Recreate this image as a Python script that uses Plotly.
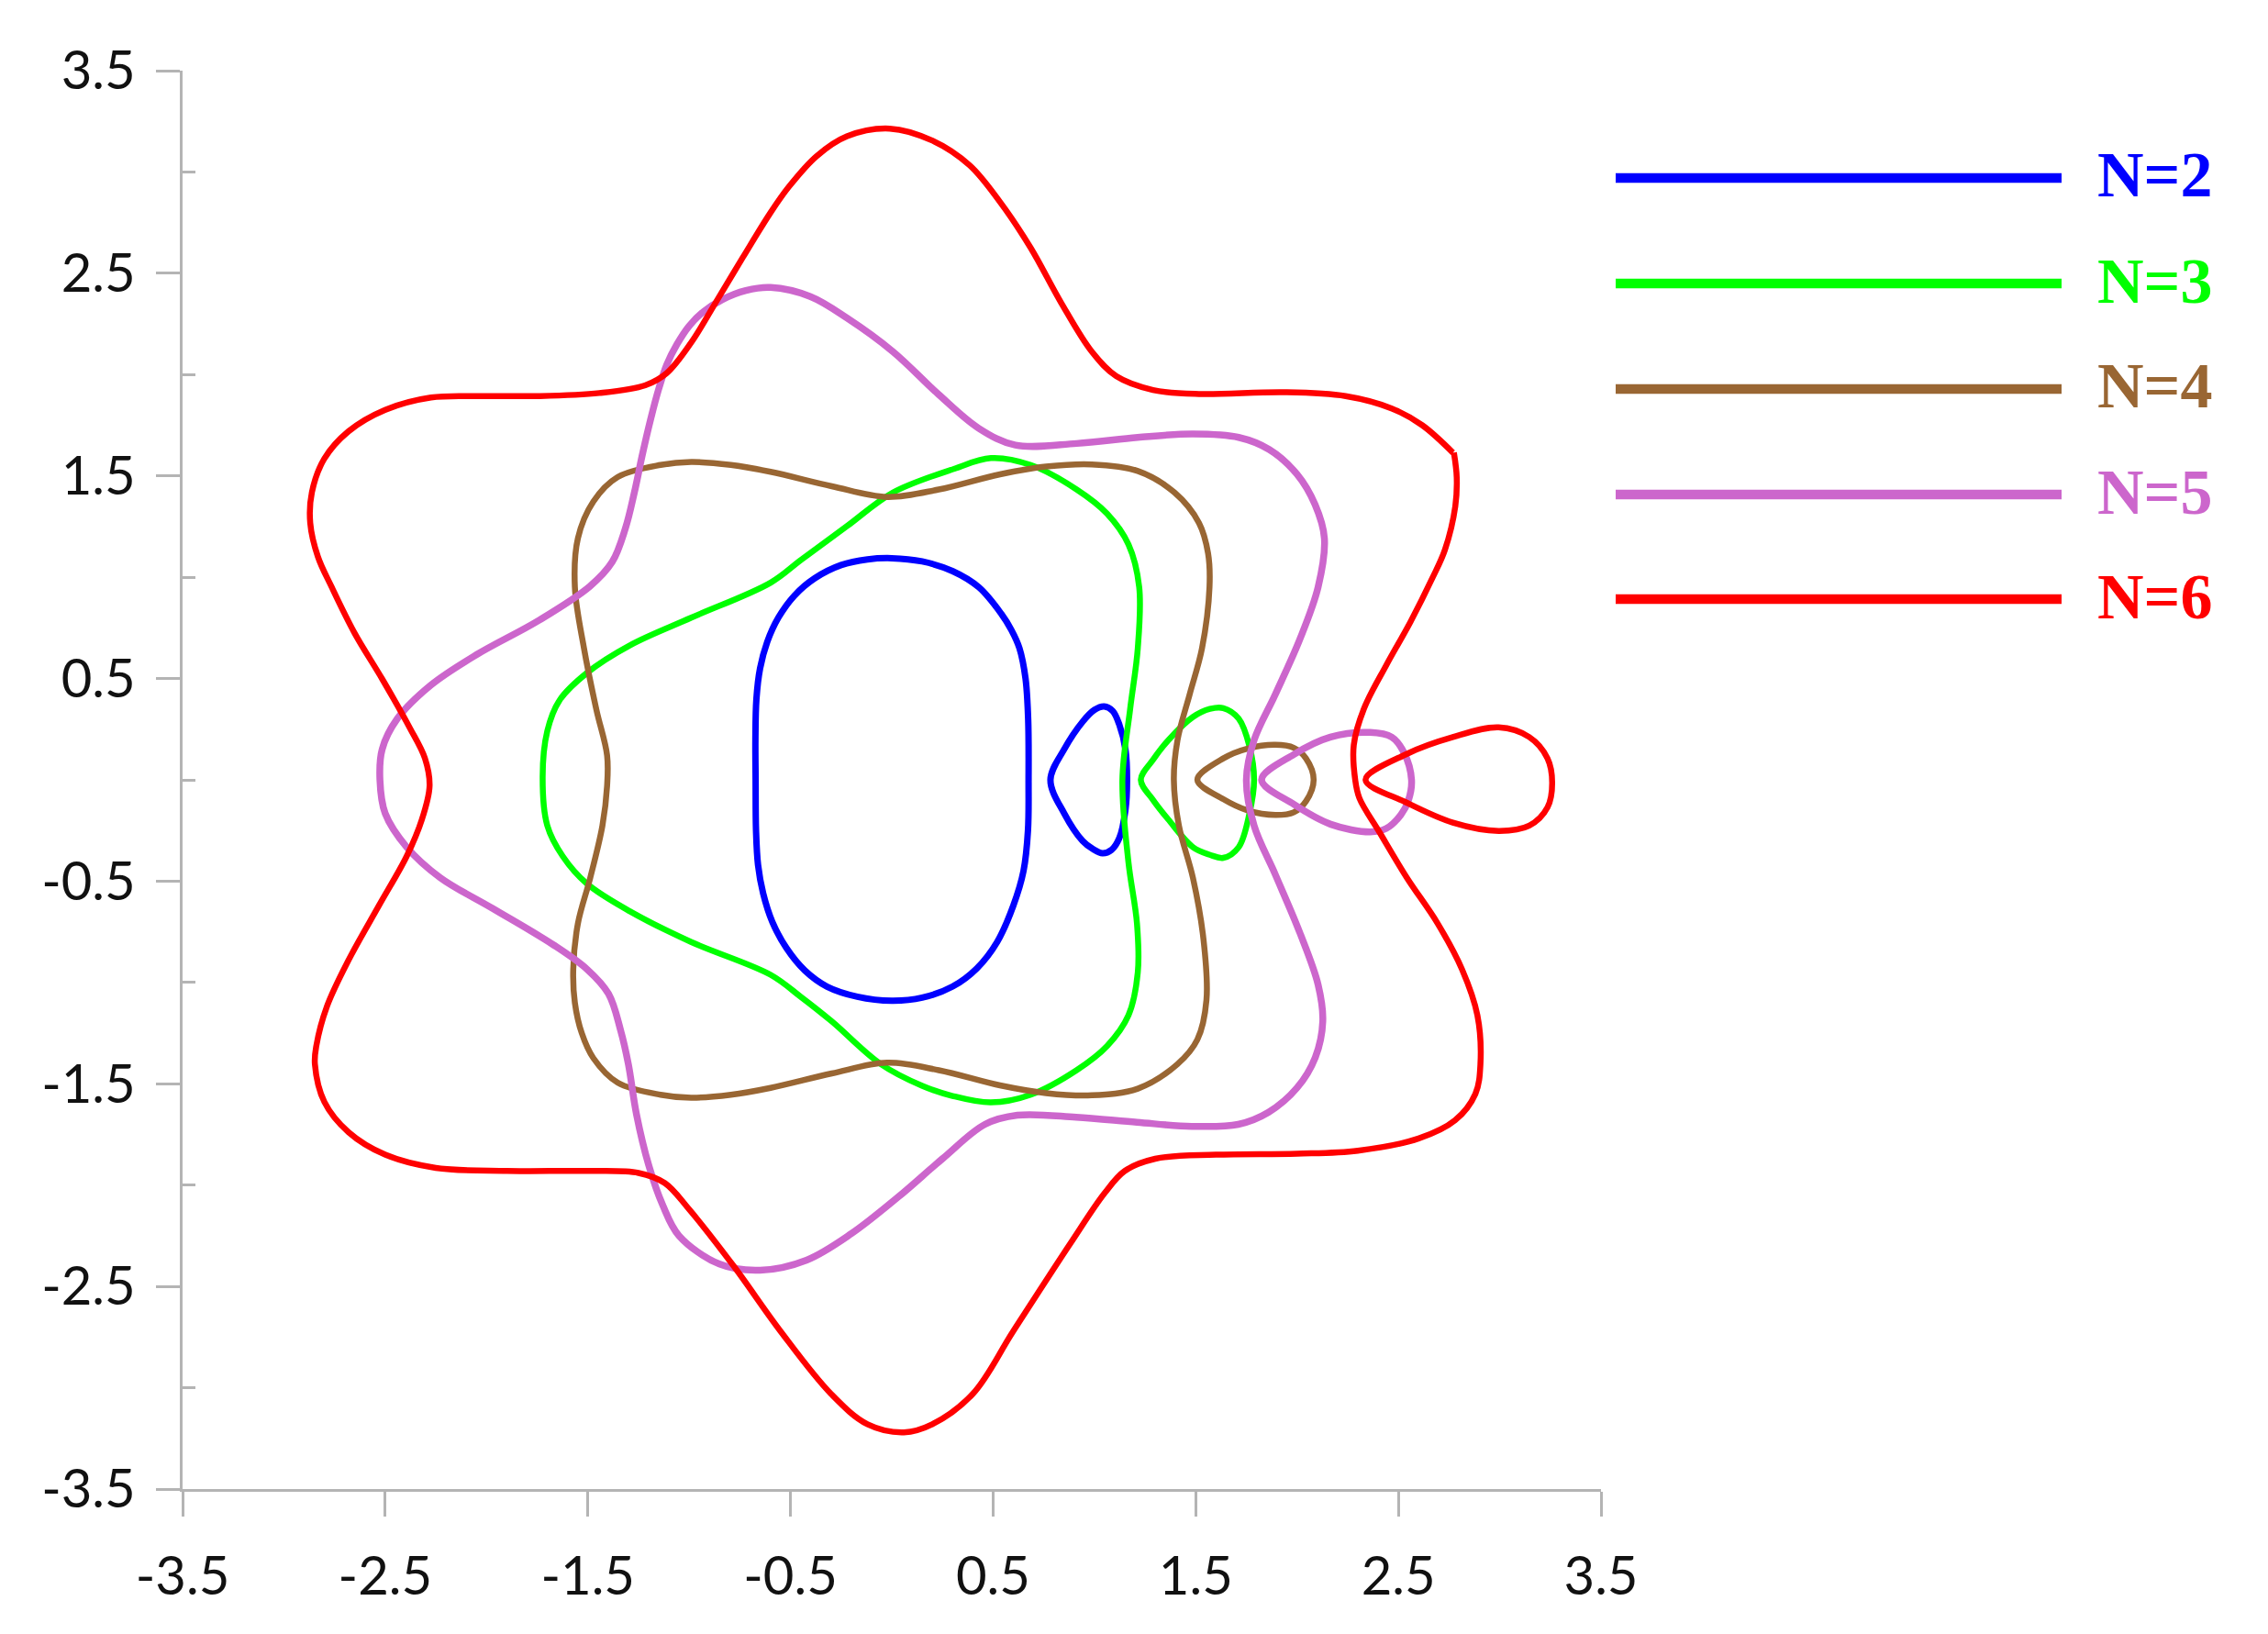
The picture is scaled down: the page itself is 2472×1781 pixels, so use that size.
import plotly.graph_objects as go

# ---------------- data ----------------
series_names = ["N=2", "N=3", "N=4", "N=5", "N=6"]
series_colors = ["#0000FF", "#00FF00", "#996633", "#CC66CC", "#FF0000"]
series_widths = [7, 6.5, 6.5, 7.5, 6.5]

axis_ticks = [-3.5, -2.5, -1.5, -0.5, 0.5, 1.5, 2.5, 3.5]
axis_ticklabels = ["-3.5", "-2.5", "-1.5", "-0.5", "0.5", "1.5", "2.5", "3.5"]
y_minor_ticks = [-3, -2, -1, 0, 1, 2, 3]

# N=2
n2_main_x = [0.675, 0.673, 0.66, 0.63, 0.59, 0.54, 0.43, 0.3, 0.15, 0.0, -0.12, -0.25, -0.38, -0.48, -0.56,
             -0.615, -0.65, -0.668, -0.673, -0.672, -0.67, -0.66, -0.635, -0.59, -0.52, -0.43, -0.32, -0.17,
             0.0, 0.15, 0.3, 0.42, 0.52, 0.6, 0.65, 0.672, 0.675]
n2_main_y = [0.0, 0.3, 0.5, 0.65, 0.74, 0.82, 0.95, 1.03, 1.078, 1.094, 1.088, 1.06, 0.995, 0.91, 0.8,
             0.68, 0.55, 0.4, 0.2, 0.0, -0.25, -0.42, -0.56, -0.7, -0.83, -0.94, -1.02, -1.07,
             -1.09, -1.075, -1.02, -0.93, -0.8, -0.62, -0.45, -0.25, 0.0]
n2_loop_x = [0.783, 0.851, 0.942, 1.0, 1.048, 1.09, 1.123, 1.153, 1.161, 1.153, 1.123, 1.085, 1.04, 0.99, 0.942, 0.851, 0.783]
n2_loop_y = [0.0, 0.151, 0.287, 0.345, 0.362, 0.34, 0.272, 0.151, 0.0, -0.15, -0.287, -0.345, -0.362, -0.34, -0.302, -0.166, 0.0]

# N=3
n3_main_x = [1.138, 1.176, 1.214, 1.221, 1.168, 1.063, 0.912, 0.685, 0.489, 0.308, 0.006, -0.221, -0.447, -0.598,
             -0.99, -1.292, -1.504, -1.64, -1.7, -1.723, -1.7, -1.624, -1.504, -1.292, -0.99, -0.598, -0.45,
             -0.296, -0.054, 0.15, 0.3, 0.489, 0.685, 0.912, 1.063, 1.168, 1.214, 1.21, 1.168, 1.138]
n3_main_y = [0.0, 0.347, 0.649, 0.951, 1.162, 1.313, 1.433, 1.554, 1.588, 1.535, 1.418, 1.252, 1.086, 0.973,
             0.8, 0.664, 0.528, 0.392, 0.241, 0.015, -0.226, -0.377, -0.513, -0.649, -0.8, -0.962, -1.07,
             -1.192, -1.403, -1.51, -1.56, -1.592, -1.554, -1.433, -1.313, -1.162, -0.951, -0.709, -0.407, 0.0]
n3_loop_x = [1.229, 1.29, 1.365, 1.486, 1.57, 1.636, 1.712, 1.765, 1.788, 1.765, 1.712, 1.636, 1.57, 1.486, 1.365, 1.29, 1.229]
n3_loop_y = [0.0, 0.1, 0.196, 0.31, 0.35, 0.354, 0.302, 0.166, 0.0, -0.166, -0.332, -0.385, -0.37, -0.332, -0.196, -0.1, 0.0]

# N=4
n4_main_x = [1.392, 1.41, 1.47, 1.531, 1.568, 1.561, 1.516, 1.395, 1.214, 0.987, 0.761, 0.534, 0.232, -0.024,
             -0.296, -0.598, -0.794, -0.99, -1.141, -1.353, -1.473, -1.549, -1.564, -1.519, -1.458, -1.405,
             -1.405, -1.428, -1.488, -1.549, -1.572, -1.564, -1.53, -1.473, -1.353, -1.141, -0.99, -0.794,
             -0.598, -0.296, -0.024, 0.232, 0.534, 0.761, 0.987, 1.214, 1.41, 1.508, 1.553, 1.538, 1.486, 1.417, 1.392]
n4_main_y = [0.0, 0.196, 0.422, 0.649, 0.951, 1.117, 1.268, 1.418, 1.524, 1.557, 1.546, 1.508, 1.433, 1.396,
             1.449, 1.52, 1.554, 1.569, 1.554, 1.494, 1.373, 1.192, 0.951, 0.649, 0.347, 0.121,
             -0.03, -0.226, -0.483, -0.709, -0.935, -1.1, -1.25, -1.373, -1.494, -1.554, -1.569, -1.554,
             -1.52, -1.449, -1.396, -1.433, -1.508, -1.546, -1.557, -1.524, -1.403, -1.282, -1.086, -0.785, -0.483, -0.226, 0.0]
n4_loop_x = [1.508, 1.636, 1.757, 1.893, 1.984, 2.044, 2.082, 2.044, 1.984, 1.893, 1.757, 1.636, 1.508]
n4_loop_y = [0.0, 0.106, 0.155, 0.173, 0.158, 0.106, 0.0, -0.106, -0.16, -0.173, -0.151, -0.095, 0.0]

# N=5
n5_main_x = [1.75, 1.788, 1.893, 2.014, 2.104, 2.135, 2.089, 1.999, 1.863, 1.712, 1.486, 1.214, 0.912, 0.61,
             0.429, 0.232, 0.006, -0.221, -0.402, -0.598, -0.72, -0.839, -0.93, -1.0, -1.06, -1.11, -1.15,
             -1.19, -1.232, -1.27, -1.315, -1.38, -1.49, -1.745, -2.047, -2.274, -2.44, -2.515, -2.526, -2.5,
             -2.394, -2.228, -1.971, -1.669, -1.504, -1.398, -1.338, -1.3, -1.26, -1.2, -1.13, -1.05, -0.85,
             -0.65, -0.42, -0.2, 0.03, 0.25, 0.46, 0.62, 0.91, 1.21, 1.48, 1.71, 1.86, 2.0, 2.09, 2.127, 2.104,
             2.014, 1.893, 1.788, 1.75]
n5_main_y = [0.0, 0.196, 0.422, 0.694, 0.951, 1.192, 1.358, 1.509, 1.63, 1.69, 1.707, 1.69, 1.66, 1.652,
             1.735, 1.901, 2.113, 2.279, 2.385, 2.43, 2.415, 2.369, 2.31, 2.24, 2.15, 2.05, 1.93,
             1.78, 1.6, 1.42, 1.24, 1.075, 0.955, 0.785, 0.619, 0.468, 0.302, 0.151, 0.0, -0.166,
             -0.332, -0.483, -0.634, -0.815, -0.935, -1.056, -1.237, -1.403, -1.65, -1.9, -2.1, -2.25, -2.39,
             -2.42, -2.37, -2.24, -2.06, -1.87, -1.7, -1.655, -1.665, -1.69, -1.71, -1.7, -1.64, -1.52, -1.37,
             -1.192, -1.011, -0.755, -0.468, -0.226, 0.0]
n5_loop_x = [1.825, 1.984, 2.165, 2.361, 2.467, 2.527, 2.565, 2.55, 2.512, 2.44, 2.361, 2.165, 1.984, 1.825]
n5_loop_y = [0.0, 0.125, 0.211, 0.234, 0.211, 0.136, 0.0, -0.1, -0.173, -0.24, -0.257, -0.219, -0.121, 0.0]

# N=6
n6_main_x = [2.774, 2.788, 2.781, 2.73, 2.667, 2.56, 2.44, 2.33, 2.28, 2.287, 2.308, 2.406, 2.542, 2.694, 2.814,
             2.89, 2.905, 2.88, 2.78, 2.6, 2.3, 2.0, 1.6, 1.3, 1.15, 1.05, 0.88, 0.6, 0.4, 0.2, 0.06, -0.12,
             -0.3, -0.55, -0.78, -1.0, -1.12, -1.25, -1.5, -1.9, -2.25, -2.5, -2.68, -2.8, -2.847, -2.84,
             -2.787, -2.681, -2.53, -2.394, -2.319, -2.281, -2.304, -2.379, -2.515, -2.651, -2.764, -2.832,
             -2.87, -2.862, -2.801, -2.681, -2.5, -2.274, -2.047, -1.745, -1.443, -1.217, -1.111, -0.99,
             -0.87, -0.734, -0.598, -0.507, -0.371, -0.221, -0.01, 0.202, 0.384, 0.534, 0.685, 0.836, 0.987,
             1.108, 1.289, 1.516, 1.938, 2.24, 2.467, 2.618, 2.769]
n6_main_y = [1.615, 1.494, 1.35, 1.136, 0.994, 0.78, 0.565, 0.351, 0.172, 0.0, -0.091, -0.257, -0.483, -0.709, -0.935,
             -1.162, -1.403, -1.55, -1.68, -1.77, -1.83, -1.845, -1.85, -1.87, -1.93, -2.04, -2.29, -2.72, -3.03,
             -3.18, -3.22, -3.18, -3.03, -2.72, -2.4, -2.12, -1.99, -1.94, -1.93, -1.93, -1.915, -1.85, -1.74,
             -1.59, -1.403, -1.313, -1.117, -0.89, -0.619, -0.377, -0.196, -0.03, 0.106, 0.257, 0.498, 0.724,
             0.951, 1.101, 1.268, 1.418, 1.584, 1.72, 1.826, 1.887, 1.894, 1.894, 1.909, 1.947, 2.007, 2.158,
             2.354, 2.58, 2.8, 2.928, 3.078, 3.176, 3.214, 3.154, 3.033, 2.852, 2.626, 2.354, 2.113,
             1.992, 1.924, 1.904, 1.913, 1.894, 1.833, 1.75, 1.615]
n6_loop_x = [2.338, 2.542, 2.769, 2.995, 3.146, 3.236, 3.259, 3.236, 3.146, 2.995, 2.769, 2.542, 2.338]
n6_loop_y = [0.0, 0.128, 0.211, 0.259, 0.211, 0.106, -0.015, -0.136, -0.226, -0.252, -0.211, -0.113, 0.0]

curves = [
    [(n2_main_x, n2_main_y), (n2_loop_x, n2_loop_y)],
    [(n3_main_x, n3_main_y), (n3_loop_x, n3_loop_y)],
    [(n4_main_x, n4_main_y), (n4_loop_x, n4_loop_y)],
    [(n5_main_x, n5_main_y), (n5_loop_x, n5_loop_y)],
    [(n6_main_x, n6_main_y), (n6_loop_x, n6_loop_y)],
]

# ---------------- figure ----------------
# the page body has an 8px margin, so the figure is 16px smaller than the window
BODY = 8
W, H = 2472 - 2 * BODY, 1781 - 2 * BODY
ML, MT = 199 - BODY, 77 - BODY
PW = PH = 1546
MR = W - ML - PW
MB = H - MT - PH

fig = go.Figure()
for name, color, width, parts in zip(series_names, series_colors, series_widths, curves):
    for xs, ys in parts:
        fig.add_trace(go.Scatter(
            x=xs, y=ys, mode="lines", name=name, legendgroup=name, showlegend=False,
            line=dict(color=color, width=width, shape="spline", smoothing=1.0),
            hoverinfo="skip",
        ))

axis_color = "#b4b4b4"
tick_font = dict(family="Lato, Roboto, sans-serif", size=58, color="#111111")

fig.update_layout(
    width=W, height=H,
    margin=dict(l=ML, r=MR, t=MT, b=MB, pad=0),
    paper_bgcolor="white", plot_bgcolor="white",
    showlegend=False,
    xaxis=dict(
        range=[-3.5, 3.5], tickmode="array", tickvals=axis_ticks, ticktext=axis_ticklabels,
        showline=True, linecolor=axis_color, linewidth=2.5,
        ticks="outside", ticklen=27, tickwidth=2.5, tickcolor=axis_color,
        showgrid=False, zeroline=False, tickfont=tick_font, ticklabelstandoff=16,
    ),
    yaxis=dict(
        range=[-3.5, 3.5], tickmode="array", tickvals=axis_ticks, ticktext=axis_ticklabels,
        showline=True, linecolor=axis_color, linewidth=2.5,
        ticks="outside", ticklen=26, tickwidth=2.5, tickcolor=axis_color,
        minor=dict(tickmode="array", tickvals=y_minor_ticks, ticks="inside", ticklen=14,
                   tickwidth=2.5, tickcolor=axis_color, showgrid=False),
        showgrid=False, zeroline=False, tickfont=tick_font, ticklabelstandoff=11,
    ),
)

# custom legend (long line samples with bold serif labels), positions in page pixels
legend_rows_px = [194, 309, 424, 539, 653]
line_x0_px, line_x1_px, text_x_px = 1761, 2247, 2284


def px_to_paper_x(px):
    return (px - BODY - ML) / PW


def px_to_paper_y(py):
    return (MT + PH - (py - BODY)) / PH


for name, color, row in zip(series_names, series_colors, legend_rows_px):
    fig.add_shape(type="line", xref="paper", yref="paper",
                  x0=px_to_paper_x(line_x0_px), x1=px_to_paper_x(line_x1_px),
                  y0=px_to_paper_y(row), y1=px_to_paper_y(row),
                  line=dict(color=color, width=10.5))
    fig.add_annotation(xref="paper", yref="paper", x=px_to_paper_x(text_x_px), y=px_to_paper_y(row - 3),
                       xanchor="left", yanchor="middle", showarrow=False,
                       text="<b>" + name + "</b>",
                       font=dict(family="Liberation Serif, Times New Roman, serif", size=70, color=color))

fig.write_html("out.html")
